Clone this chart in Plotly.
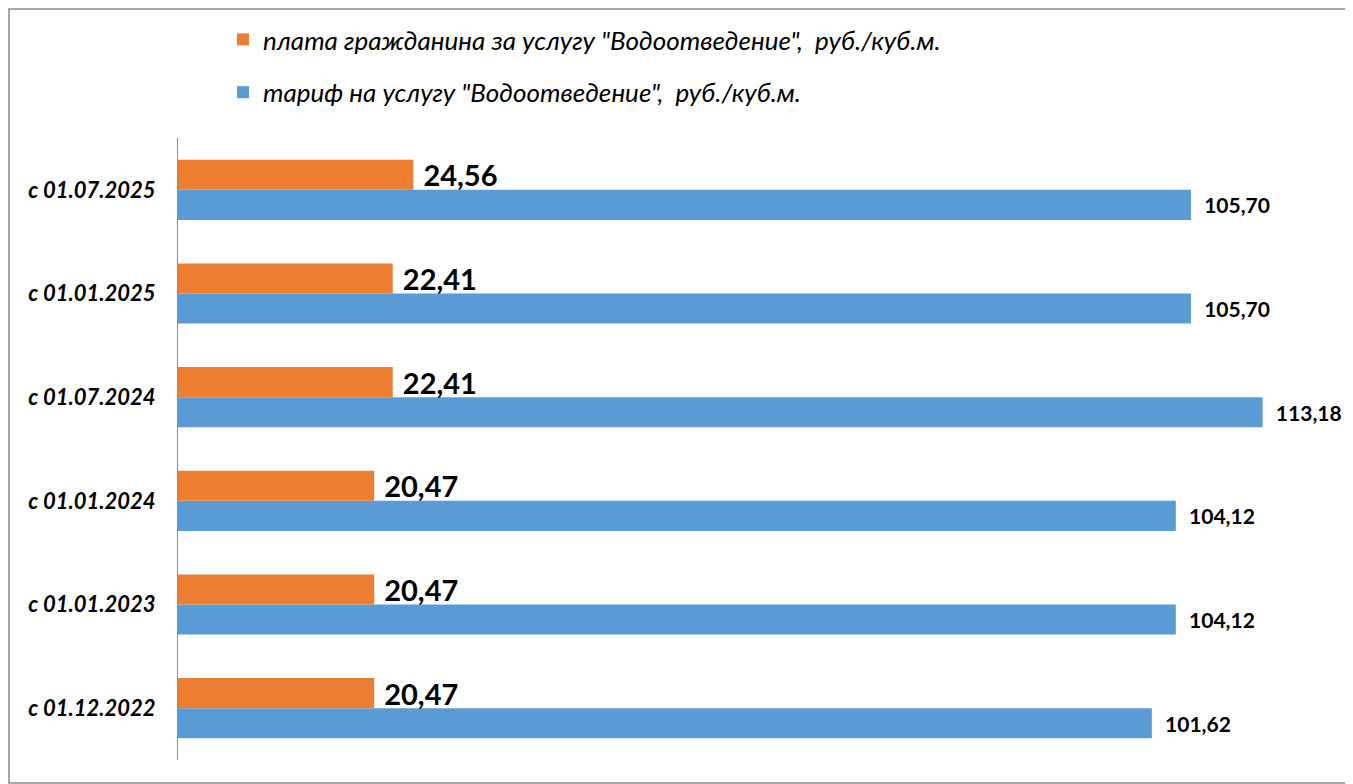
import plotly.graph_objects as go

categories = ["с 01.12.2022", "с 01.01.2023", "с 01.01.2024", "с 01.07.2024", "с 01.01.2025", "с 01.07.2025"]
payment = [20.47, 20.47, 20.47, 22.41, 22.41, 24.56]
tariff = [101.62, 104.12, 104.12, 113.18, 105.70, 105.70]
name_payment = 'плата гражданина за услугу "Водоотведение",  руб./куб.м.'
name_tariff = 'тариф на услугу "Водоотведение",  руб./куб.м.'

# page body adds an 8px offset; compensate so the plot lands where the reference has it
OFF = 8
W, H = 1353 - OFF, 784 - OFF
L, R, T, B = 178 - OFF, 25, 138 - OFF, 24
pw, ph = W - L - R, H - T - B

FONT = "Lato, Open Sans, sans-serif"

fig = go.Figure()
fig.add_trace(go.Bar(
    y=categories, x=tariff, orientation="h", name=name_tariff,
    marker=dict(color="#5B9BD5", line=dict(width=0)),
    texttemplate="\u00a0\u00a0%{x:.2f}", textposition="outside", cliponaxis=False,
    constraintext="none",
    textfont=dict(family=FONT, size=21, color="#000000", weight="bold"),
    legendrank=2, legendgroup="b",
))
fig.add_trace(go.Bar(
    y=categories, x=payment, orientation="h", name=name_payment,
    marker=dict(color="#ED7D31", line=dict(width=0)),
    texttemplate="\u00a0%{x:.2f}", textposition="outside", cliponaxis=False,
    constraintext="none",
    textfont=dict(family=FONT, size=29, color="#000000", weight="bold"),
    legendrank=1, legendgroup="a",
))

fig.update_layout(
    width=W, height=H,
    margin=dict(l=L, r=R, t=T, b=B, pad=0, autoexpand=False),
    barmode="group", bargap=0.42, bargroupgap=0,
    separators=", ",
    plot_bgcolor="white", paper_bgcolor="white",
    font=dict(family=FONT, color="#000000"),
    xaxis=dict(range=[0, 120], visible=False, showgrid=False, zeroline=False),
    yaxis=dict(type="category", showline=True, linecolor="#8C8C8C", linewidth=1,
               ticks="", ticklabelstandoff=17, showgrid=False,
               tickfont=dict(family=FONT, size=22, style="italic", weight="bold", color="#000000")),
    legend=dict(orientation="v", xref="container", yref="container",
                x=(223 - OFF) / W, xanchor="left",
                y=1 - 8 / H, yanchor="top",
                font=dict(family=FONT, size=26, style="italic", color="#000000"),
                tracegroupgap=16, itemwidth=30, bgcolor="rgba(0,0,0,0)"),
    showlegend=True,
    shapes=[dict(type="rect", xref="paper", yref="paper",
                 x0=-(L - 1) / pw, x1=1 + (R - 1) / pw,
                 y0=-(B - 1) / ph, y1=1 + (T - 1) / ph,
                 line=dict(color="#8C8C8C", width=1.5), fillcolor="rgba(0,0,0,0)", layer="below")],
)

fig.write_html("out.html")
